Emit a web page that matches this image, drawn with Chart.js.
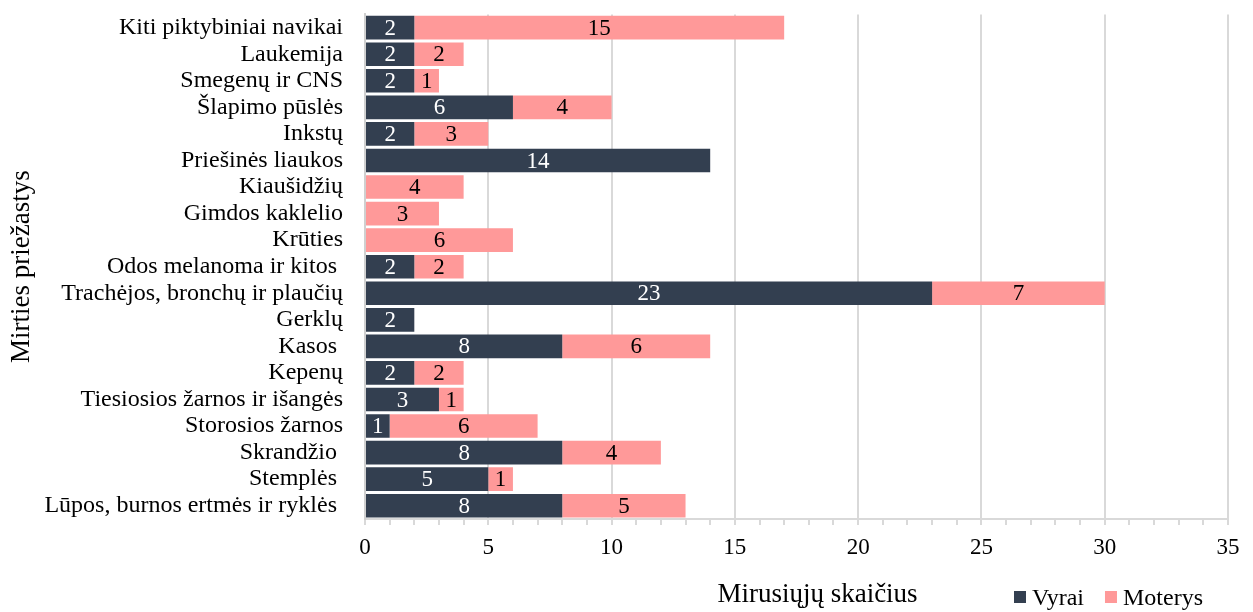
<!DOCTYPE html>
<html>
<head>
<meta charset="utf-8">
<script src="https://cdn.jsdelivr.net/npm/chart.js@4/dist/chart.umd.min.js"></script>
<style>
  html, body { margin: 0; padding: 0; background: #fff; }
  #wrap { position: relative; width: 1253px; height: 612px; }
</style>
</head>
<body>
<div id="wrap"><canvas id="c" width="1253" height="612"></canvas></div>
<script>
const categories = [
  "Kiti piktybiniai navikai",
  "Laukemija",
  "Smegenų ir CNS",
  "Šlapimo pūslės",
  "Inkstų",
  "Priešinės liaukos",
  "Kiaušidžių",
  "Gimdos kaklelio",
  "Krūties",
  "Odos melanoma ir kitos ",
  "Trachėjos, bronchų ir plaučių",
  "Gerklų",
  "Kasos ",
  "Kepenų",
  "Tiesiosios žarnos ir išangės",
  "Storosios žarnos",
  "Skrandžio ",
  "Stemplės ",
  "Lūpos, burnos ertmės ir ryklės "
];
const vyrai   = [2, 2, 2, 6, 2, 14, 0, 0, 0, 2, 23, 2, 8, 2, 3, 1, 8, 5, 8];
const moterys = [15, 2, 1, 4, 3, 0, 4, 3, 6, 2, 7, 0, 6, 2, 1, 6, 4, 1, 5];
const seriesNames = ["Vyrai", "Moterys"];
const xTickValues = [0, 5, 10, 15, 20, 25, 30, 35];
const xTitle = "Mirusiųjų skaičius";
const yTitle = "Mirties priežastys";

const FONT = "'Liberation Serif', 'Times New Roman', serif";
const DARK = "#333F50";
const PINK = "#FF9999";

const labelPlugin = {
  id: "barLabels",
  afterDatasetsDraw(chart) {
    const ctx = chart.ctx;
    ctx.save();
    ctx.font = "23px " + FONT;
    ctx.textAlign = "center";
    ctx.textBaseline = "middle";
    chart.data.datasets.forEach((ds, di) => {
      const meta = chart.getDatasetMeta(di);
      meta.data.forEach((el, i) => {
        const v = ds.data[i];
        if (!v) return;
        const cx = (el.x + el.base) / 2;
        ctx.fillStyle = di === 0 ? "#ffffff" : "#000000";
        ctx.fillText(String(v), cx, el.y + 1);
      });
    });
    ctx.restore();
  }
};

const titleLegendPlugin = {
  id: "titleLegend",
  afterDraw(chart) {
    const ctx = chart.ctx;
    const area = chart.chartArea;
    ctx.save();
    // x-axis title
    ctx.font = "27px " + FONT;
    ctx.fillStyle = "#000";
    ctx.textAlign = "center";
    ctx.textBaseline = "alphabetic";
    ctx.fillText(xTitle, (area.left + area.right) / 2 + 21, chart.height - 10);
    // legend
    ctx.font = "24px " + FONT;
    ctx.textAlign = "left";
    let x = area.right - 214;
    const yBase = chart.height - 7;
    chart.data.datasets.forEach((ds) => {
      ctx.fillStyle = ds.backgroundColor;
      ctx.fillRect(x, yBase - 14, 12, 12);
      ctx.fillStyle = "#000";
      ctx.fillText(ds.label, x + 18, yBase);
      x += 18 + ctx.measureText(ds.label).width + 21;
    });
    ctx.restore();
  }
};

new Chart(document.getElementById("c"), {
  type: "bar",
  data: {
    labels: categories,
    datasets: [
      { label: seriesNames[0], data: vyrai, backgroundColor: DARK, borderWidth: 0 },
      { label: seriesNames[1], data: moterys, backgroundColor: PINK, borderWidth: 0 }
    ]
  },
  options: {
    indexAxis: "y",
    responsive: false,
    animation: false,
    devicePixelRatio: 1,
    categoryPercentage: 0.89,
    barPercentage: 1.0,
    layout: { padding: { top: 12, right: 25, left: 0, bottom: 0 } },
    plugins: {
      legend: { display: false },
      tooltip: { enabled: false }
    },
    scales: {
      x: {
        stacked: true,
        min: 0,
        max: 35,
        ticks: {
          stepSize: 1,
          autoSkip: false,
          maxRotation: 0,
          padding: 9,
          color: "#000",
          font: { family: FONT, size: 23 },
          callback: (v) => xTickValues.includes(v) ? String(v) : ""
        },
        grid: {
          color: (c) => (c.tick && xTickValues.includes(c.tick.value)) ? "#d9d9d9" : "rgba(0,0,0,0)",
          tickColor: "#d9d9d9",
          tickLength: 6,
          lineWidth: 2
        },
        border: { display: true, color: "#d9d9d9", width: 2 },
        title: { display: false },
        afterFit: (s) => { s.height = 93; }
      },
      y: {
        stacked: true,
        ticks: {
          color: "#000",
          padding: 0,
          autoSkip: false,
          font: { family: FONT, size: 24 }
        },
        grid: {
          display: true,
          drawOnChartArea: false,
          drawTicks: true,
          tickLength: 22,
          color: "rgba(0,0,0,0)",
          tickColor: "rgba(0,0,0,0)"
        },
        border: { display: true, color: "#d0d0d0", width: 2 },
        title: {
          display: true,
          text: yTitle,
          color: "#000",
          font: { family: FONT, size: 27 },
          padding: { top: 6, bottom: 0 }
        },
        afterFit: (s) => { s.width = 365; }
      }
    }
  },
  plugins: [labelPlugin, titleLegendPlugin]
});
</script>
</body>
</html>
